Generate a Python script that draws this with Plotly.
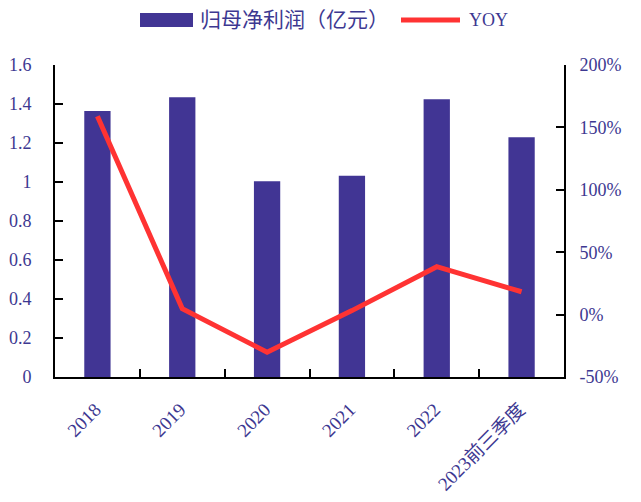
import plotly.graph_objects as go

categories = ["2018", "2019", "2020", "2021", "2022", "2023前三季度"]
profit = [1.364, 1.434, 1.004, 1.032, 1.424, 1.229]
yoy = [1.589, 0.048, -0.301, 0.032, 0.384, 0.183]

left_ticks = [0, 0.2, 0.4, 0.6, 0.8, 1, 1.2, 1.4, 1.6]
left_text = ["0", "0.2", "0.4", "0.6", "0.8", "1", "1.2", "1.4", "1.6"]
right_ticks = [-0.5, 0, 0.5, 1.0, 1.5, 2.0]
right_text = ["-50%", "0%", "50%", "100%", "150%", "200%"]

bar_name = "归母净利润（亿元）"
line_name = "YOY"

txt = "#3D3891"
bar_color = "#413594"
line_color = "#FF3333"
serif = "Liberation Serif, Times New Roman, Noto Sans CJK SC, serif"

fig = go.Figure()
fig.add_trace(go.Bar(x=categories, y=profit, name=bar_name, showlegend=False,
                     marker=dict(color=bar_color, line=dict(width=0)), yaxis="y"))
fig.add_trace(go.Scatter(x=categories, y=yoy, name=line_name, mode="lines", showlegend=False,
                         line=dict(color=line_color, width=5), yaxis="y2"))

# custom legend (paper coordinates)
PL, PW, PB, PH = 55, 509, 377, 312
def px(x):
    return (x - PL) / PW
def py(y):
    return (PB - y) / PH

shapes = [
    dict(type="rect", xref="paper", yref="paper", x0=px(140), x1=px(193), y0=py(27), y1=py(13),
         fillcolor=bar_color, line=dict(width=0)),
    dict(type="line", xref="paper", yref="paper", x0=px(401), x1=px(460), y0=py(20), y1=py(20),
         line=dict(color=line_color, width=5)),
]
annotations = [
    dict(text=bar_name, xref="paper", yref="paper", x=px(198), y=py(20), xanchor="left",
         yanchor="middle", showarrow=False, font=dict(family=serif, size=21, color=txt)),
    dict(text=line_name, xref="paper", yref="paper", x=px(467), y=py(20), xanchor="left",
         yanchor="middle", showarrow=False, font=dict(family=serif, size=18, color=txt)),
]

fig.update_layout(
    width=641, height=502,
    margin=dict(l=55, r=77, t=65, b=125),
    paper_bgcolor="white", plot_bgcolor="white",
    bargap=0.69,
    showlegend=False,
    shapes=shapes, annotations=annotations,
    font=dict(family=serif, color=txt),
    xaxis=dict(showline=True, linecolor="black", linewidth=2, ticks="inside",
               tickson="boundaries", ticklen=8, tickcolor="black", tickwidth=2,
               tickangle=-45, tickfont=dict(family=serif, size=19, color=txt),
               ticklabelstandoff=12, ticklabelshift=-2, showgrid=False, automargin=False),
    yaxis=dict(range=[0, 1.6], tickvals=left_ticks, ticktext=left_text,
               showline=True, linecolor="black", linewidth=2, ticks="inside",
               ticklen=8, tickcolor="black", tickwidth=2, showgrid=False, zeroline=False,
               tickfont=dict(family=serif, size=18, color=txt), ticklabelstandoff=18,
               automargin=False),
    yaxis2=dict(range=[-0.5, 2.0], tickvals=right_ticks, ticktext=right_text,
                overlaying="y", side="right",
                showline=True, linecolor="black", linewidth=2, ticks="inside",
                ticklen=8, tickcolor="black", tickwidth=2, showgrid=False, zeroline=False,
                tickfont=dict(family=serif, size=18, color=txt), ticklabelstandoff=10,
                automargin=False),
)

fig.write_html("out.html")
